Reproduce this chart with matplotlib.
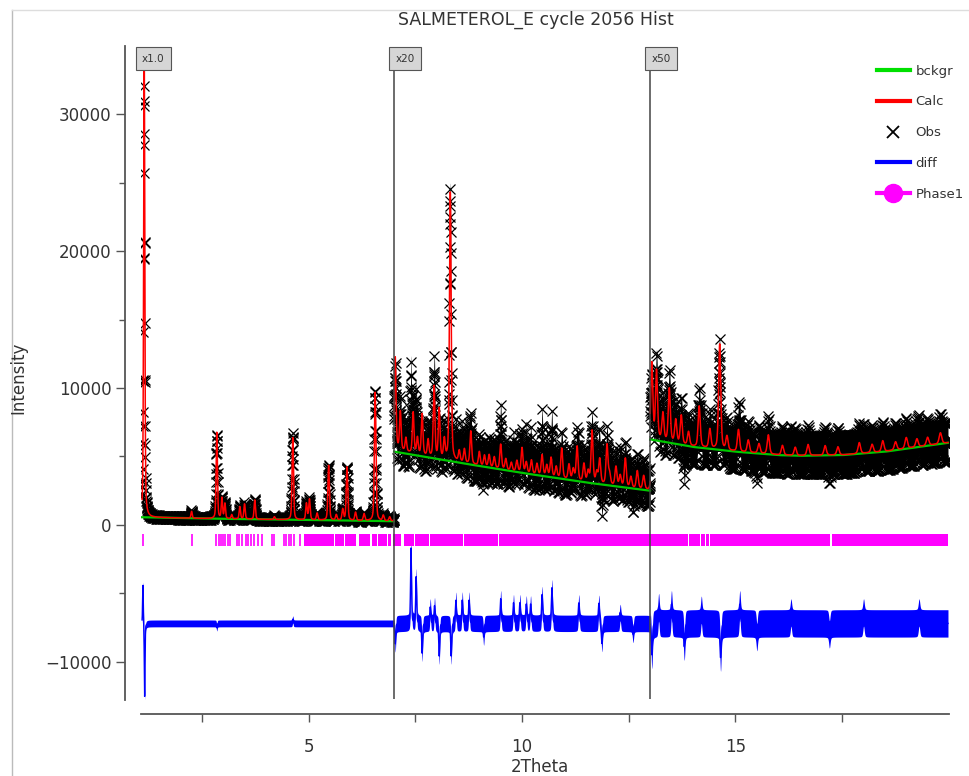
import numpy as np
import matplotlib
matplotlib.use("Agg")
import matplotlib.pyplot as plt
from matplotlib.lines import Line2D

# histogram segments (2Theta) and the display multiplier used for each
seg_edges = [1.10, 7.00, 13.00, 19.98]
seg_scale = [1, 20, 50]
seg_tags = ["x1.0", "x20", "x50"]

# background, raw counts, read at a few 2Theta values
bg_tth = [1.10, 2.50, 4.00, 5.50, 7.00, 8.50, 10.00, 11.50, 13.00,
          14.00, 15.00, 16.00, 16.50, 17.50, 18.50, 19.98]
bg_cnt = [560, 470, 400, 340, 268, 228, 190, 155, 125,
          114, 107, 102, 101, 102, 107, 120]

# calculated reflections: position, height above background (raw counts)
peak_pos = [1.15, 2.26, 2.85, 2.97, 3.04, 3.20, 3.39, 3.50, 3.74, 4.20,
            4.63, 4.95, 5.02, 5.20, 5.47, 5.65, 5.80, 5.90, 6.10, 6.30,
            6.56, 6.75, 6.90,
            7.03, 7.15, 7.28, 7.45, 7.55, 7.66, 7.80, 7.94, 8.06, 8.18,
            8.32, 8.53, 8.65, 8.80, 9.00, 9.12, 9.23, 9.35, 9.50, 9.62,
            9.75, 9.88, 10.00, 10.10, 10.22, 10.35, 10.47, 10.58, 10.68, 10.80,
            10.93, 11.10, 11.20, 11.29, 11.45, 11.55, 11.64, 11.75, 11.82, 11.99,
            12.05, 12.20, 12.30, 12.42, 12.55, 12.70, 12.85,
            13.04, 13.15, 13.30, 13.45, 13.60, 13.73, 13.90, 14.15, 14.40, 14.63,
            14.80, 15.07, 15.30, 15.55, 15.77, 16.10, 16.40, 16.70, 17.10, 17.40,
            17.90, 18.20, 18.45, 18.75, 19.00, 19.25, 19.50, 19.80]
peak_hgt = [34000, 500, 6300, 1500, 1100, 300, 900, 1100, 1400, 200,
            6000, 1200, 1500, 500, 4000, 400, 800, 3900, 600, 500,
            9400, 400, 300,
            330, 140, 50, 150, 60, 150, 60, 260, 180, 70,
            980, 40, 50, 120, 50, 40, 45, 40, 90, 40,
            30, 40, 90, 40, 50, 40, 75, 40, 70, 40,
            110, 55, 40, 125, 65, 40, 190, 40, 90, 145,
            40, 70, 40, 105, 40, 65, 50,
            110, 100, 40, 78, 34, 42, 20, 60, 28, 154,
            20, 32, 18, 14, 28, 14, 12, 16, 14, 12,
            16, 12, 16, 12, 16, 12, 12, 16]

# misfit spikes, obs - calc (raw counts)
diff_pos = [1.12, 1.16, 2.85, 4.63,
            7.03, 7.40, 7.52, 7.66, 7.85, 7.95, 8.06, 8.34, 8.45, 8.60,
            8.76, 9.10, 9.50, 9.80, 9.95, 10.10, 10.20, 10.47, 10.70, 11.33,
            11.80, 11.87, 12.30, 12.60,
            13.04, 13.20, 13.50, 13.80, 14.20, 14.65, 15.10, 15.50, 16.30, 17.20,
            18.00, 19.30]
diff_val = [2900, -5400, -300, 300,
            -75, 275, 170, -110, 60, 65, -120, -120, 85, 85,
            85, -50, 90, 75, 75, 70, 70, 105, 130, 75,
            75, -75, 40, -40,
            -46, 24, 28, -34, 20, -50, 28, -20, 16, -16,
            16, 16]

# counting noise half-width per segment (display units)
obs_noise = [120, 1300, 1400]
diff_noise = [250, 600, 1000]
diff_offset = -7200

# Phase1 reflection markers
refl_sparse = [1.13, 2.26, 2.84, 2.90, 2.94, 3.00, 3.05, 3.11, 3.17, 3.33,
               3.37, 3.43, 3.53, 3.58, 3.66, 3.72, 3.82, 3.92, 4.14, 4.19,
               4.42, 4.48, 4.53, 4.60, 4.67, 4.79]
refl_bands = [(4.90, 5.59), (5.62, 5.82), (5.85, 6.11), (6.19, 6.45), (6.48, 6.60),
              (6.63, 6.83), (6.86, 6.94), (6.97, 7.16), (7.24, 7.46), (7.49, 7.81),
              (7.84, 8.62), (8.65, 9.44), (9.47, 13.88), (13.91, 14.16), (14.19, 14.28),
              (14.31, 14.38), (14.41, 17.22), (17.25, 19.98)]

tth = np.arange(seg_edges[0], seg_edges[-1], 0.0025)
fwhm = 0.03 + 0.002 * tth
bg = np.interp(tth, bg_tth, bg_cnt)


def pvoigt(pos, hgt, width, eta=0.4):
    out = np.zeros_like(tth)
    for p, h in zip(pos, hgt):
        u = (tth - p) / (width / 2.0)
        out += h * (eta / (1.0 + u ** 2) + (1 - eta) * np.exp(-np.log(2) * u ** 2))
    return out


calc = bg + pvoigt(peak_pos, peak_hgt, fwhm)
diff = pvoigt(diff_pos, diff_val, fwhm * 0.6)
obs = calc + diff

fig = plt.figure(figsize=(9.69, 7.76), dpi=100)
ax = fig.add_axes([0.1453, 0.0979, 0.834, 0.8428])

for i in range(3):
    m = (tth >= seg_edges[i]) & (tth < seg_edges[i + 1])
    s = seg_scale[i]
    t = tth[m]
    o = obs[m] * s
    n = obs_noise[i]
    ax.fill_between(t, o - n, o + n, color="k", lw=0, zorder=2)
    ax.plot(t[::2], o[::2], "x", color="k", ms=6.5, mew=0.9, zorder=2)
    ax.plot(t[::7], (o + n)[::7], "x", color="k", ms=6.5, mew=0.9, zorder=2)
    ax.plot(t[3::7], (o - n)[3::7], "x", color="k", ms=6.5, mew=0.9, zorder=2)
    ax.plot(t, bg[m] * s, color="#00c800", lw=1.6, zorder=3)
    ax.plot(t, calc[m] * s, color="#ff0000", lw=1.1, zorder=4)
    d = diff[m] * s + diff_offset
    dn = diff_noise[i]
    ax.fill_between(t, d - dn, d + dn, color="#0000ff", lw=0, zorder=3)
    ax.plot(t, d, color="#0000ff", lw=1.0, zorder=3)

ax.vlines(refl_sparse, -1550, -650, color="#ff00ff", lw=1.2, zorder=3)
ax.broken_barh([(a, b - a) for a, b in refl_bands], (-1550, 900),
               facecolors="#ff00ff", zorder=3)

ax.vlines(seg_edges[1:3], -12700, 33500, color="#444444", lw=1.1, zorder=5)
tag_x = [1.10, seg_edges[1] + 0.03, seg_edges[2] + 0.03]
for xx, tag in zip(tag_x, seg_tags):
    ax.text(xx, 34450, tag, ha="left", va="top", fontsize=7.5, color="#333333",
            bbox=dict(boxstyle="square,pad=0.6", fc="#d6d6d6", ec="#555555", lw=0.8),
            zorder=6)

ax.set_xlim(1.07, 20.0)
ax.set_ylim(-12800, 35000)
for side in ["top", "right"]:
    ax.spines[side].set_visible(False)
ax.spines["left"].set_position(("outward", 11.5))
ax.spines["bottom"].set_position(("outward", 10))
for side in ["left", "bottom"]:
    ax.spines[side].set_color("#555555")
    ax.spines[side].set_linewidth(1.3)

ax.set_yticks([-10000, 0, 10000, 20000, 30000])
ax.set_yticks([-5000, 5000, 15000, 25000], minor=True)
ax.set_xticks([2.5, 5, 7.5, 10, 12.5, 15, 17.5])
ax.set_xticklabels(["", "5", "", "10", "", "15", ""])
ax.tick_params(axis="y", which="major", length=6.5, width=1, color="#555555",
               labelsize=12, pad=3, labelcolor="#333333")
ax.tick_params(axis="y", which="minor", length=4, width=1, color="#555555")
ax.tick_params(axis="x", which="major", length=6, width=1, color="#555555",
               labelsize=12, pad=11, labelcolor="#333333")

fig.text(0.553, 1 - 20 / 776, "SALMETEROL_E cycle 2056 Hist", ha="center",
         va="center", fontsize=12.5, color="#333333")
fig.text(18 / 969, 1 - 378 / 776, "Intensity", rotation=90, ha="center",
         va="center", fontsize=12, color="#333333")
fig.text(0.557, 1 - 767 / 776, "2Theta", ha="center", va="center",
         fontsize=12, color="#333333")

# window frame lines
fig.add_artist(Line2D([12 / 969, 12 / 969], [0, 1 - 10 / 776], color="#bbbbbb",
                      lw=1, transform=fig.transFigure))
fig.add_artist(Line2D([12 / 969, 1], [1 - 10 / 776, 1 - 10 / 776], color="#dddddd",
                      lw=1, transform=fig.transFigure))

handles = [
    Line2D([], [], color="#00e000", lw=3),
    Line2D([], [], color="#ff0000", lw=3),
    Line2D([], [], color="k", marker="x", ls="none", ms=8, mew=1.3),
    Line2D([], [], color="#0000ff", lw=3),
    Line2D([], [], color="#ff00ff", lw=3, marker="o", ms=13),
]
labels = ["bckgr", "Calc", "Obs", "diff", "Phase1"]
ax.legend(handles, labels, loc="upper left", bbox_to_anchor=(870 / 969, 1 - 58 / 776),
          bbox_transform=fig.transFigure, frameon=False, fontsize=9.5,
          labelspacing=1.35, handlelength=2.5, handletextpad=0.45, borderpad=0,
          labelcolor="#333333")

fig.savefig("out.png", dpi=100)
